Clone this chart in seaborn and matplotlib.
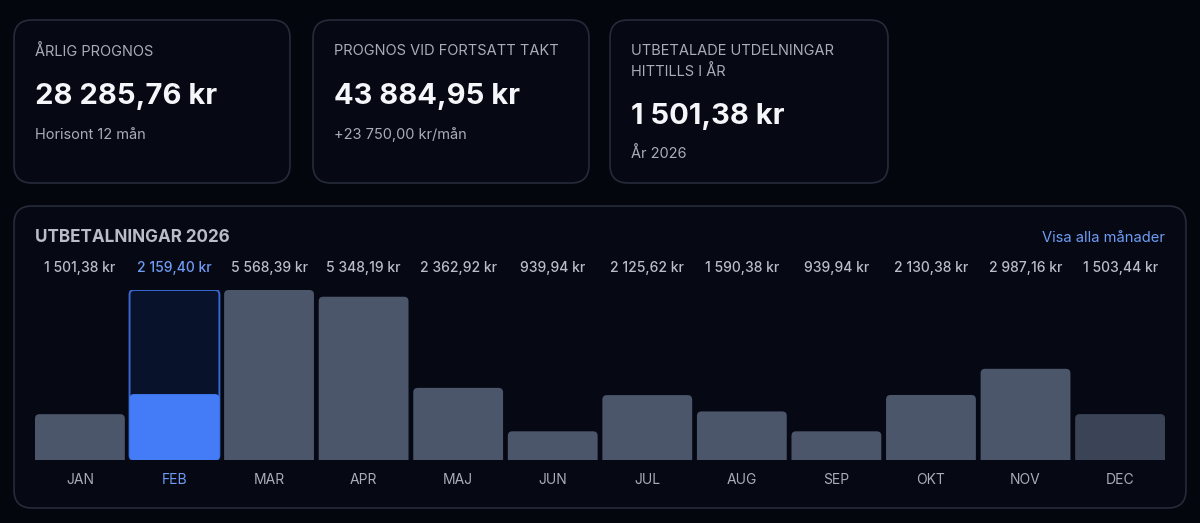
import seaborn as sns
import pandas as pd
import matplotlib.pyplot as plt
from matplotlib.patches import FancyBboxPatch

months = ['JAN', 'FEB', 'MAR', 'APR', 'MAJ', 'JUN',
          'JUL', 'AUG', 'SEP', 'OKT', 'NOV', 'DEC']
payouts = [1501.38, 2159.40, 5568.39, 5348.19, 2362.92, 939.94,
           2125.62, 1590.38, 939.94, 2130.38, 2987.16, 1503.44]
current_month = 'FEB'
last_month = 'DEC'

card_titles = ['ÅRLIG PROGNOS', 'PROGNOS VID FORTSATT TAKT',
               'UTBETALADE UTDELNINGAR\nHITTILLS I ÅR']
card_values = [28285.76, 43884.95, 1501.38]
card_notes = ['Horisont 12 mån', '+23 750,00 kr/mån', 'År 2026']

BG = '#04060e'
CARD = '#060813'
EDGE = '#262b3a'
GRAY_TXT = '#a9adb8'
BAR = '#4b566b'
BAR_DIM = '#3b4457'
BLUE = '#447cf7'
BLUE_TXT = '#6e9cf5'
W, H = 1200, 523


def kr(v):
    s = f'{v:,.2f}'.replace(',', ' ').replace('.', ',')
    return s + ' kr'


sns.set_theme(style='dark')
plt.rcParams['font.family'] = ['Inter', 'DejaVu Sans']

fig = plt.figure(figsize=(W / 100, H / 100), dpi=100, facecolor=BG)

# background layer in pixel coordinates (y from top)
bg = fig.add_axes([0, 0, 1, 1])
bg.set_xlim(0, W)
bg.set_ylim(H, 0)
bg.axis('off')
bg.set_facecolor(BG)


def card(x0, y0, x1, y1):
    r = 18
    bg.add_patch(FancyBboxPatch((x0 + r, y0 + r), x1 - x0 - 2 * r,
                                y1 - y0 - 2 * r,
                                boxstyle=f'round,pad={r}',
                                facecolor=CARD, edgecolor=EDGE, lw=1.2))


card_x = [(14, 290), (313, 589), (610, 888)]
for i, (x0, x1) in enumerate(card_x):
    card(x0, 20, x1, 183)
    tx = x0 + 21
    bg.text(tx, 44, card_titles[i], color=GRAY_TXT, fontsize=10.5,
            va='top', ha='left', linespacing=1.5)
    vy = 97 if i < 2 else 116
    ny = 135 if i < 2 else 154
    bg.text(tx, vy, kr(card_values[i]), color='#f5f6f9', fontsize=21,
            fontweight='bold', va='center', ha='left')
    bg.text(tx, ny, card_notes[i], color=GRAY_TXT, fontsize=10.5,
            va='center', ha='left')

card(14, 206, 1186, 508)
bg.text(35, 238, 'UTBETALNINGAR 2026', color='#b9bdc8', fontsize=12.3,
        fontweight='bold', va='center', ha='left')
bg.text(1165, 238, 'Visa alla månader', color=BLUE_TXT, fontsize=10.6,
        va='center', ha='right')

# bar chart axes
width = 0.95
step = (1165 - 35) / (len(months) - 1 + width)
left_px = 35 - (0.5 - width / 2) * step
right_px = 1165 + (0.5 - width / 2) * step
base_px, top_px = 460, 290
ax = fig.add_axes([left_px / W, (H - base_px) / H,
                   (right_px - left_px) / W, (base_px - top_px) / H])
ax.set_facecolor('none')
for s in ax.spines.values():
    s.set_visible(False)

df = pd.DataFrame({'month': months, 'value': payouts})
colors = {m: BAR for m in months}
colors[current_month] = BLUE
colors[last_month] = BAR_DIM
ymax = df['value'].max()

# highlight column behind the current month
ci = months.index(current_month)
ax.bar([ci], [ymax], width=width, color='none')
sns.barplot(data=df, x='month', y='value', hue='month', palette=colors,
            width=width, legend=False, ax=ax, saturation=1)
ax.set_xlim(-0.5, len(months) - 0.5)
ax.set_ylim(0, ymax)

# swap rectangles for rounded boxes
units_per_px = ymax / (base_px - top_px)
aspect = units_per_px * step
rad = 4.5 / step
patches = list(ax.patches)
for k, p in enumerate(patches):
    x, w, h = p.get_x(), p.get_width(), p.get_height()
    if h <= 0:
        p.remove()
        continue
    label = months[int(round(x + w / 2))]
    y0 = 0
    if k == 0:
        fc, ec, lw = '#08122b', '#3a68d0', 1.4
    else:
        fc, ec, lw = p.get_facecolor(), 'none', 0
        if label != current_month:
            # square bottom: push rounding below the baseline
            y0 = -6 * units_per_px
    p.remove()
    box = FancyBboxPatch((x, y0), w, h - y0,
                         boxstyle=f'round,pad=0,rounding_size={rad}',
                         mutation_aspect=aspect, facecolor=fc,
                         edgecolor=ec, lw=lw, zorder=2 if k else 1)
    ax.add_patch(box)
    if y0 < 0:
        box.set_clip_path(ax.patch)

ax.set_yticks([])
ax.set_xlabel('')
ax.set_ylabel('')
ax.tick_params(axis='x', length=0, pad=9, labelsize=10)
for lab in ax.get_xticklabels():
    lab.set_color(BLUE_TXT if lab.get_text() == current_month else GRAY_TXT)

# value labels row
for i, v in enumerate(payouts):
    ax.annotate(kr(v), xy=(i, 0), xycoords=('data', 'figure pixels'),
                xytext=(i, H - 268), textcoords=('data', 'figure pixels'),
                ha='center', va='center', fontsize=10, fontweight='medium',
                color=BLUE_TXT if months[i] == current_month else '#b9bdc8')

fig.savefig('out.png', dpi=100, facecolor=BG)
